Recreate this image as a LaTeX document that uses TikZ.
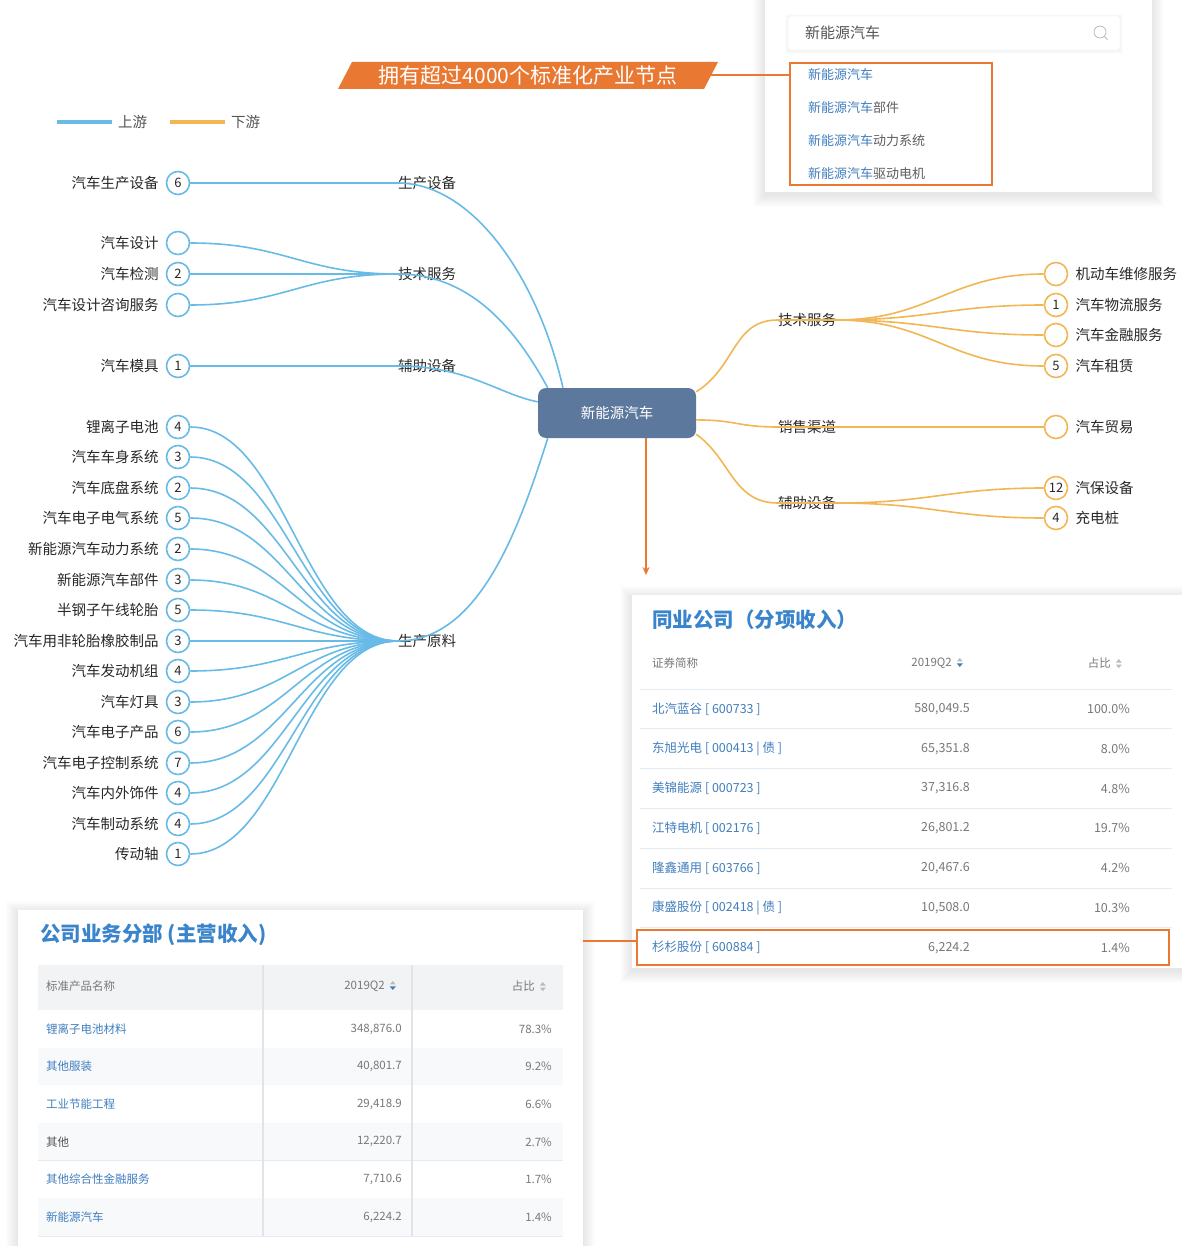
\documentclass[tikz,border=0pt]{standalone}
\usepackage{fontspec}
\setmainfont{Noto Sans CJK SC}
\usetikzlibrary{positioning,arrows.meta}

\definecolor{upblue}{RGB}{104,187,230}
\definecolor{downorange}{RGB}{242,183,84}
\definecolor{hubblue}{RGB}{92,120,156}
\definecolor{accent}{RGB}{233,120,50}
\definecolor{linkblue}{RGB}{64,126,190}
\definecolor{titleblue}{RGB}{58,132,204}
\definecolor{ink}{RGB}{40,40,40}
\definecolor{softgray}{RGB}{120,120,120}
\definecolor{rulegray}{RGB}{230,235,242}
\definecolor{headgray}{RGB}{242,243,245}
\definecolor{stripe}{RGB}{248,249,251}
\definecolor{colrule}{RGB}{226,228,232}

% small up/down sort arrows used in the table headers
\newcommand{\sortmark}[2]{\tikz[baseline=-0.6ex,x=1pt,y=1pt]{\fill[#1] (0,1) -- (3,4.5) -- (6,1) -- cycle; \fill[#2] (0,-1) -- (3,-4.5) -- (6,-1) -- cycle;}}
% white card with a soft shadow (x1,y1,x2,y2)
\newcommand{\cardbox}[4]{%
    \foreach \k in {1,...,12} \fill[black, opacity=0.007] (#1-\k,#2-\k+3) rectangle (#3+\k,#4+\k+3);
    \fill[white] (#1,#2) rectangle (#3,#4);}

\begin{document}
\begin{tikzpicture}[x=1pt,y=-1pt,
    lbl/.style={font=\fontsize{14.5}{16}\selectfont, text=ink, inner sep=0pt},
    ucirc/.style={circle, draw=upblue, line width=1.6pt, fill=white, minimum size=23pt, inner sep=0pt, font=\fontsize{13}{13}\selectfont, text=ink},
    dcirc/.style={ucirc, draw=downorange},
    uline/.style={upblue, line width=1.6pt},
    dline/.style={downorange, line width=1.6pt},
    hub/.style={rectangle, rounded corners=8pt, fill=hubblue, text=white, minimum width=158pt, minimum height=50pt, font=\fontsize{14.5}{16}\selectfont},
    cell/.style={font=\fontsize{12.5}{14}\selectfont, inner sep=0pt},
    ccell/.style={font=\fontsize{11.5}{13}\selectfont, inner sep=0pt},
    ttl/.style={font=\fontsize{20.5}{24}\selectfont\bfseries, text=titleblue, anchor=west, inner sep=0pt}]

    \useasboundingbox (0,0) rectangle (1181,1246);
    \fill[white] (0,0) rectangle (1181,1246);

    % Search card
    \cardbox{765}{-20}{1152}{192}
    \foreach \k in {1,...,3} \fill[black, opacity=0.012] (788-\k,16-\k+1) rectangle (1120+\k,50+\k+1);
    \node[draw=rulegray, fill=white, rounded corners=2pt, minimum width=332pt, minimum height=34pt] (search) at (954,33) {};
    \node[anchor=west, font=\fontsize{15}{16}\selectfont, text=ink!80, inner sep=0pt] (searchtext) at (805,33) {新能源汽车};
    \draw[softgray!50, line width=0.8pt] (1100,32) circle (6pt) (1104.5,36.5) -- (1107.5,39.5);
    \node[draw=accent, line width=1.2pt, minimum width=202pt, minimum height=122pt, inner sep=0pt] (drop) at (891,124) {};
    \foreach \y/\t [count=\i] in {75/{}, 108/部件, 141/动力系统, 174/驱动电机}
        \node[anchor=west, font=\fontsize{13}{14}\selectfont, text=ink!75, inner sep=0pt] (opt\i) at (808,\y) {\textcolor{linkblue}{新能源汽车}\t};

    % Banner
    \fill[accent] (338,89) -- (352,62) -- (718,62) -- (704,89) -- cycle;
    \node[font=\fontsize{21}{23}\selectfont, text=white, inner sep=0pt] (banner) at (528,76) {拥有超过4000个标准化产业节点};
    \coordinate (bannertip) at (711,75);
    \draw[accent, line width=1.2pt] (bannertip) -- (drop.west |- bannertip);

    % Legend
    \draw[upblue, line width=4pt] (57,122) -- (112,122) node[lbl, text=ink!80, right=4pt] (legup) {上游};
    \draw[downorange, line width=4pt] (170,122) -- (225,122) node[lbl, text=ink!80, right=4pt] (legdown) {下游};

    % Hub
    \node[hub] (hub) at (617,413) {新能源汽车};

    % Upstream
    \node[lbl] (ucat1) at (427,183) {生产设备};
    \node[lbl] (ucat2) at (427,274) {技术服务};
    \node[lbl] (ucat3) at (427,366) {辅助设备};
    \node[lbl] (ucat4) at (427,641) {生产原料};
    \foreach \y/\n/\t/\c in {183/6/汽车生产设备/ucat1, 243//汽车设计/ucat2, 274/2/汽车检测/ucat2,
        305//汽车设计咨询服务/ucat2, 366/1/汽车模具/ucat3, 427/4/锂离子电池/ucat4,
        457/3/汽车车身系统/ucat4, 488/2/汽车底盘系统/ucat4, 518/5/汽车电子电气系统/ucat4,
        549/2/新能源汽车动力系统/ucat4, 580/3/新能源汽车部件/ucat4, 610/5/半钢子午线轮胎/ucat4,
        641/3/汽车用非轮胎橡胶制品/ucat4, 671/4/汽车发动机组/ucat4, 702/3/汽车灯具/ucat4,
        732/6/汽车电子产品/ucat4, 763/7/汽车电子控制系统/ucat4, 793/4/汽车内外饰件/ucat4,
        824/4/汽车制动系统/ucat4, 854/1/传动轴/ucat4} {
        \node[ucirc] (u\y) at (178,\y) {\n};
        \node[lbl, left=7pt of u\y] (ul\y) {\t};
        \draw[uline] (u\y.east) .. controls +(95,0) and +(-95,0) .. (\c.west);
    }
    \draw[uline] (ucat1.west) .. controls +(75,0) and +(-25,-110) .. (hub.155);
    \draw[uline] (ucat2.west) .. controls +(75,0) and +(-30,-55) .. (hub.160);
    \draw[uline] (ucat3.west) .. controls +(70,0) and +(-40,-8) .. (hub.172);
    \draw[uline] (ucat4.west) .. controls +(80,0) and +(-30,95) .. (hub.200);

    % Downstream
    \node[lbl] (dcat1) at (807,320) {技术服务};
    \node[lbl] (dcat2) at (807,427) {销售渠道};
    \node[lbl] (dcat3) at (807,503) {辅助设备};
    \draw[dline] (hub.15) .. controls +(40,-25) and +(-45,0) .. (dcat1.west) -- (dcat1.east);
    \draw[dline] (hub.-5) .. controls +(40,0) and +(-40,0) .. (dcat2.west) -- (dcat2.east);
    \draw[dline] (hub.-15) .. controls +(35,25) and +(-45,0) .. (dcat3.west) -- (dcat3.east);
    \foreach \y/\n/\t/\c in {274//机动车维修服务/dcat1, 305/1/汽车物流服务/dcat1, 335//汽车金融服务/dcat1,
        366/5/汽车租赁/dcat1, 427//汽车贸易/dcat2, 488/12/汽保设备/dcat3, 518/4/充电桩/dcat3} {
        \node[dcirc] (d\y) at (1056,\y) {\n};
        \node[lbl, right=7pt of d\y] (dl\y) {\t};
        \draw[dline] (\c.east) .. controls +(95,0) and +(-95,0) .. (d\y.west);
    }

    % Arrow down to peer table
    \coordinate (dropend) at (646,575);
    \draw[accent, line width=1.2pt, -{Stealth[length=8pt,width=7pt]}] (hub.south -| dropend) -- (dropend);

    % Peer companies table
    \cardbox{632}{595}{1200}{968}
    \node[ttl] (peertitle) at (652,620) {同业公司（分项收入）};
    \node[ccell, anchor=west, text=softgray] (ph1) at (652,663) {证券简称};
    \node[ccell, anchor=east, text=softgray] (ph2) at (963,663) {2019Q2\hspace{5pt}\sortmark{softgray!50}{linkblue}};
    \node[ccell, anchor=east, text=softgray] (ph3) at (1122,663) {占比\hspace{5pt}\sortmark{softgray!50}{softgray!50}};
    \foreach \t/\v/\p [count=\i] in {北汽蓝谷 [ 600733 ]/{580,049.5}/100.0\%, 东旭光电 [ 000413 | 债 ]/{65,351.8}/8.0\%,
        美锦能源 [ 000723 ]/{37,316.8}/4.8\%, 江特电机 [ 002176 ]/{26,801.2}/19.7\%,
        隆鑫通用 [ 603766 ]/{20,467.6}/4.2\%, 康盛股份 [ 002418 | 债 ]/{10,508.0}/10.3\%,
        杉杉股份 [ 600884 ]/{6,224.2}/1.4\%} {
        \pgfmathsetmacro\ry{709+39.8*(\i-1)}
        \draw[rulegray, line width=1pt] (640,\ry-20) -- (1172,\ry-20);
        \node[cell, anchor=west, text=linkblue] (pn\i) at (652,\ry) {\t};
        \node[cell, anchor=east, text=softgray] (pv\i) at (970,\ry) {\v};
        \node[cell, anchor=east, text=softgray] (pp\i) at (1130,\ry) {\p};
    }
    \node[draw=accent, line width=1.2pt, minimum width=532pt, minimum height=35pt, inner sep=0pt] (hirow) at (903,947.5) {};

    % Company segments table
    \cardbox{18}{910}{583}{1280}
    \coordinate (compedge) at (583,941);
    \draw[accent, line width=1.2pt] (compedge) -- (hirow.west |- compedge);
    \node[ttl] (comptitle) at (40,935) {公司业务分部 (主营收入)};
    \fill[headgray] (38,965) rectangle (563,1010);
    \foreach \t/\v/\p/\tc/\bg [count=\i] in {锂离子电池材料/{348,876.0}/78.3\%/linkblue/white,
        其他服装/{40,801.7}/9.2\%/linkblue/stripe, 工业节能工程/{29,418.9}/6.6\%/linkblue/white,
        其他/{12,220.7}/2.7\%/ink!80/stripe, 其他综合性金融服务/{7,710.6}/1.7\%/linkblue/white,
        新能源汽车/{6,224.2}/1.4\%/linkblue/stripe} {
        \pgfmathsetmacro\ry{1029+37.6*(\i-1)}
        \fill[\bg] (38,\ry-18.8) rectangle (563,\ry+18.8);
        \draw[rulegray] (38,\ry+18.8) -- (563,\ry+18.8);
        \node[ccell, anchor=west, text=\tc] (cn\i) at (46,\ry) {\t};
        \node[ccell, anchor=east, text=softgray] (cv\i) at (402,\ry) {\v};
        \node[ccell, anchor=east, text=softgray] (cp\i) at (552,\ry) {\p};
    }
    \draw[colrule, line width=2.5pt] (263,965) -- (263,1236) (412,965) -- (412,1236);
    \node[ccell, anchor=west, text=softgray] (ch1) at (46,986) {标准产品名称};
    \node[ccell, anchor=east, text=softgray] (ch2) at (396,986) {2019Q2\hspace{5pt}\sortmark{softgray!50}{linkblue}};
    \node[ccell, anchor=east, text=softgray] (ch3) at (546,986) {占比\hspace{5pt}\sortmark{softgray!50}{softgray!50}};
\end{tikzpicture}
\end{document}
